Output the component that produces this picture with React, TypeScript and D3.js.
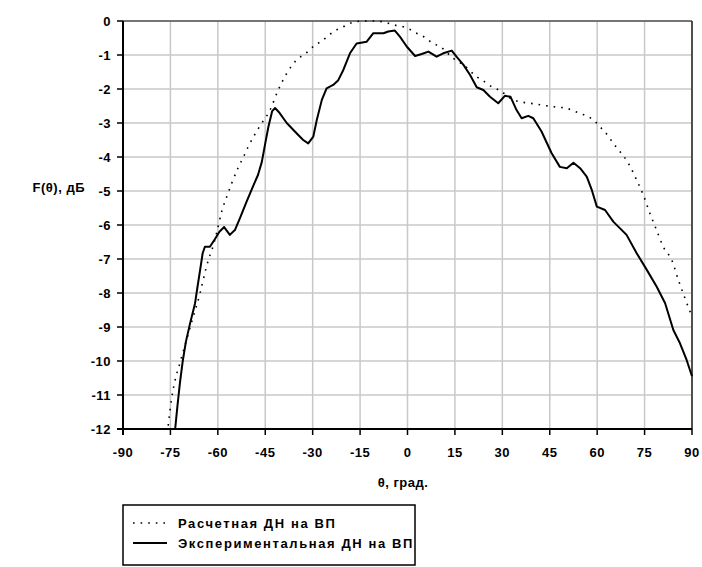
import React from "react";
import * as d3 from "d3";

const expTheta = [-73.5,-72.8,-72,-71.1,-70.1,-68.8,-67.2,-66.5,-65.6,-64.8,-64.1,-62.5,-60.9,-59.5,-58.0,-56.2,-54.6,-53,-50.9,-48.9,-47.3,-46.1,-45,-44.0,-42.8,-41.9,-40.5,-38.2,-35.1,-33,-31.4,-29.8,-28.7,-27.1,-25.6,-23.5,-21.9,-20.3,-18.2,-16.1,-12.9,-10.8,-7.6,-6.1,-4.0,-2.4,-0.25,2.4,4.5,6.6,9.2,11.3,14.0,15.5,17.7,19.8,21.9,24.0,26.1,28.7,30.8,32.6,34.5,36.1,38.2,39.8,42.4,45.6,48.2,50.4,52.5,54.6,56.7,58.3,59.9,62.5,65.1,69.3,72.5,75.7,78.8,81.5,84.1,86.2,88.3,90];
const expValue = [-12,-11.34,-10.65,-10.0,-9.43,-8.9,-8.3,-7.86,-7.32,-6.83,-6.64,-6.64,-6.41,-6.2,-6.06,-6.29,-6.15,-5.8,-5.31,-4.87,-4.53,-4.15,-3.6,-3.11,-2.65,-2.56,-2.7,-3.0,-3.3,-3.5,-3.6,-3.4,-2.91,-2.32,-1.98,-1.88,-1.74,-1.44,-0.95,-0.66,-0.61,-0.36,-0.36,-0.31,-0.28,-0.46,-0.75,-1.03,-0.97,-0.90,-1.05,-0.95,-0.87,-1.05,-1.29,-1.59,-1.95,-2.03,-2.23,-2.42,-2.2,-2.23,-2.62,-2.86,-2.79,-2.86,-3.25,-3.89,-4.29,-4.33,-4.17,-4.33,-4.58,-4.97,-5.46,-5.56,-5.9,-6.29,-6.83,-7.32,-7.81,-8.3,-9.09,-9.48,-9.97,-10.45];

const calcTheta = [-75.7,-74.6,-73.5,-72,-69.9,-67.8,-65.6,-64.1,-63,-61.9,-60.4,-58.8,-57.2,-55.6,-53.5,-51.9,-50.4,-46.7,-43.5,-40.9,-38.2,-35.1,-31.9,-29.3,-27.1,-24.5,-22.4,-20.3,-17.6,-14,-10,-6.6,-4.0,-1.3,0.6,2.9,5.5,7.7,10.3,14.5,17.7,21.9,24.0,26.6,29.3,33.5,40.3,46.1,50.4,54.6,57.2,59.7,61.4,63.5,65.1,67.2,69.9,72.5,74.6,76.7,78.8,80.9,83.6,85.7,87.8,89.6];
const calcValue = [-11.9,-11.09,-10.56,-10.06,-9.38,-8.7,-8.0,-7.41,-7.03,-6.74,-6.24,-5.61,-5.17,-4.77,-4.3,-4.0,-3.7,-3.09,-2.62,-2.03,-1.54,-1.15,-0.93,-0.71,-0.59,-0.39,-0.26,-0.17,-0.05,0,0,-0.05,-0.12,-0.17,-0.24,-0.36,-0.48,-0.64,-0.75,-1.1,-1.29,-1.64,-1.76,-1.93,-2.05,-2.32,-2.44,-2.52,-2.57,-2.72,-2.81,-2.99,-3.16,-3.38,-3.6,-3.84,-4.19,-4.68,-5.12,-5.66,-6.15,-6.64,-7.03,-7.62,-8.16,-8.6];

const xTicks = [-90,-75,-60,-45,-30,-15,0,15,30,45,60,75,90];
const yTicks = [0,-1,-2,-3,-4,-5,-6,-7,-8,-9,-10,-11,-12];

const yTitle = "F(θ), дБ";
const xTitle = "θ, град.";
const legendCalc = "Расчетная ДН на ВП";
const legendExp = "Экспериментальная ДН на ВП";

export default function App() {
  const W = 702, H = 567;
  const left = 123, right = 692, top = 21, bottom = 429;
  const x = d3.scaleLinear().domain([-90, 90]).range([left, right]);
  const y = d3.scaleLinear().domain([-12, 0]).range([bottom, top]);

  const expLine = d3.line<number>().x((_, i) => x(expTheta[i])).y((v) => y(v)).curve(d3.curveLinear);
  const calcLine = d3.line<number>().x((_, i) => x(calcTheta[i])).y((v) => y(v)).curve(d3.curveMonotoneX);

  const font = "'Liberation Sans', Arial, sans-serif";
  const fw = 600;

  return (
    <svg width={W} height={H} style={{ position: "absolute", left: 0, top: 0, background: "#fff" }} fontFamily={font}>
      <rect x={0} y={0} width={W} height={H} fill="#fff" />
      {xTicks.map((t) => (
        <line key={"gx" + t} x1={x(t)} x2={x(t)} y1={top} y2={bottom} stroke="#c8c8c8" strokeWidth={1.5} />
      ))}
      {yTicks.map((t) => (
        <line key={"gy" + t} x1={left} x2={right} y1={y(t)} y2={y(t)} stroke="#c8c8c8" strokeWidth={1.5} />
      ))}
      <line x1={left} x2={right} y1={top} y2={top} stroke="#555" strokeWidth={1.5} />
      <line x1={right} x2={right} y1={top} y2={bottom} stroke="#222" strokeWidth={1.5} />
      <defs>
        <clipPath id="clip">
          <rect x={left} y={top - 3} width={right - left + 2} height={bottom - top + 3} />
        </clipPath>
      </defs>
      <g clipPath="url(#clip)">
        <path d={calcLine(calcValue) || ""} fill="none" stroke="#000" strokeWidth={1.6} strokeDasharray="1.6 6" />
        <path d={expLine(expValue) || ""} fill="none" stroke="#000" strokeWidth={2} strokeLinejoin="round" />
      </g>
      <line x1={left} x2={left} y1={top} y2={bottom + 6} stroke="#000" strokeWidth={2} />
      <line x1={left - 6} x2={right} y1={bottom} y2={bottom} stroke="#000" strokeWidth={2} />
      {yTicks.map((t) => (
        <g key={"yt" + t}>
          <line x1={left - 6} x2={left} y1={y(t)} y2={y(t)} stroke="#000" strokeWidth={1.5} />
          <text x={left - 12} y={y(t)} dy="0.35em" textAnchor="end" fontSize={13} fontWeight={fw} letterSpacing={0.5} fill="#000">{t}</text>
        </g>
      ))}
      {xTicks.map((t) => (
        <g key={"xt" + t}>
          <line x1={x(t)} x2={x(t)} y1={bottom} y2={bottom + 6} stroke="#000" strokeWidth={1.5} />
          <text x={x(t)} y={452} dy="0.35em" textAnchor="middle" fontSize={13} fontWeight={fw} letterSpacing={0.5} fill="#000">{t}</text>
        </g>
      ))}
      <text x={85} y={187} dy="0.35em" textAnchor="end" fontSize={13} fontWeight={fw} letterSpacing={0.5} fill="#000">{yTitle}</text>
      <text x={403} y={482} dy="0.35em" textAnchor="middle" fontSize={13} fontWeight={fw} letterSpacing={0.5} fill="#000">{xTitle}</text>
      <rect x={123} y={505} width={292} height={60} fill="#fff" stroke="#000" strokeWidth={1.5} />
      <line x1={133} x2={167} y1={523} y2={523} stroke="#000" strokeWidth={1.6} strokeDasharray="1.6 6" />
      <line x1={133} x2={167} y1={543} y2={543} stroke="#000" strokeWidth={2} />
      <text x={178} y={523} dy="0.35em" fontSize={13} fontWeight={fw} letterSpacing={1.6} fill="#000">{legendCalc}</text>
      <text x={178} y={543} dy="0.35em" fontSize={13} fontWeight={fw} letterSpacing={1.6} fill="#000">{legendExp}</text>
    </svg>
  );
}
